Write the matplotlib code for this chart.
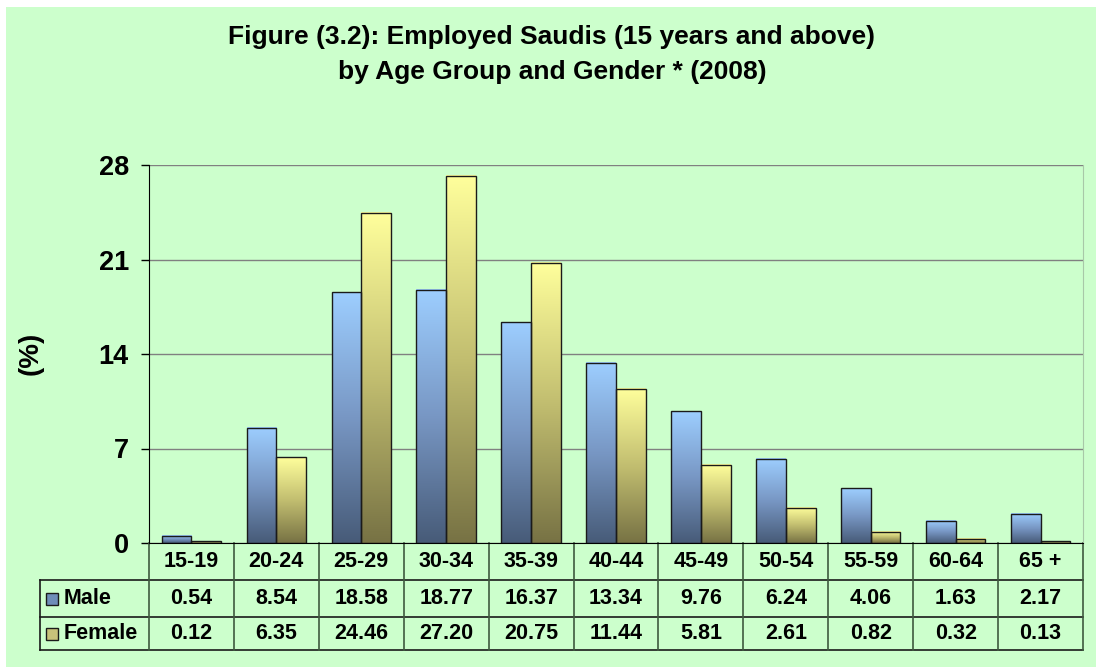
import numpy as np
import matplotlib
matplotlib.use("Agg")
import matplotlib.pyplot as plt
from matplotlib.colors import LinearSegmentedColormap
from matplotlib.patches import Rectangle

plt.rcParams['font.family'] = ['Liberation Sans', 'DejaVu Sans']

# data
age_groups = ["15-19", "20-24", "25-29", "30-34", "35-39", "40-44",
              "45-49", "50-54", "55-59", "60-64", "65 +"]
male = [0.54, 8.54, 18.58, 18.77, 16.37, 13.34, 9.76, 6.24, 4.06, 1.63, 2.17]
female = [0.12, 6.35, 24.46, 27.20, 20.75, 11.44, 5.81, 2.61, 0.82, 0.32, 0.13]
series_names = ["Male", "Female"]
y_ticks = [0, 7, 14, 21, 28]

title_lines = ["Figure (3.2): Employed Saudis (15 years and above)",
               "by Age Group and Gender * (2008)"]

W, H = 1096, 667
fig = plt.figure(figsize=(W / 100, H / 100), dpi=100, facecolor="white")

# green chart area with a thin white margin on top/left
fig.patches.append(Rectangle((6 / W, 0), 1 - 6 / W, 1 - 7 / H, transform=fig.transFigure,
                             facecolor="#CCFFCC", edgecolor="none", zorder=-10))

# plot area in pixels
px_l, px_r, px_t, px_b = 149, 1083, 165, 543
ax = fig.add_axes([px_l / W, 1 - px_b / H, (px_r - px_l) / W, (px_b - px_t) / H])
ax.set_facecolor("none")

blue_cmap = LinearSegmentedColormap.from_list("blue", ["#475B78", "#7897C4", "#9DCEFF"])
yellow_cmap = LinearSegmentedColormap.from_list("yellow", ["#777244", "#C2BE70", "#FFFF9C"])

n = len(age_groups)
x = np.arange(n)
bw = 0.35
grad = np.linspace(0, 1, 256).reshape(-1, 1)

for vals, off, cmap in [(male, -bw / 2, blue_cmap), (female, bw / 2, yellow_cmap)]:
    for xi, v in zip(x, vals):
        ax.imshow(grad, extent=[xi + off - bw / 2, xi + off + bw / 2, 0, v],
                  origin="lower", aspect="auto", cmap=cmap, zorder=2)
    ax.bar(x + off, vals, width=bw, fill=False, edgecolor="#1a1a1a", linewidth=1.0, zorder=3)

ax.set_xlim(-0.5, n - 0.5)
ax.set_ylim(0, 28)
ax.set_yticks(y_ticks)
ax.set_yticklabels([str(t) for t in y_ticks], fontsize=19.5, fontweight="bold")
ax.tick_params(axis="y", length=6, width=1, pad=8.5, direction="out")
ax.set_xticks([])
ax.yaxis.grid(True, color="#808080", linewidth=1)
ax.set_axisbelow(True)

ax.spines["top"].set_visible(False)
ax.spines["right"].set_color("#A8C8A8")
ax.spines["left"].set_color("black")
ax.spines["bottom"].set_color("black")

fig.text(31 / W, 1 - 353 / H, "(%)", rotation=90, fontsize=20, fontweight="bold",
         ha="center", va="center")

for line, base in zip(title_lines, [44, 79]):
    fig.text(552 / W, 1 - base / H, line, ha="center", va="baseline", fontsize=19,
             fontweight="bold")

# data table below the axes (pixel rows converted to axes fraction)
def ay(py):
    return (px_b - py) / (px_b - px_t)

def axx(px):
    return (px - px_l) / (px_r - px_l)

tb = ax.transAxes
rows = [543, 580, 617, 650]
tab_left = 40
line_kw = dict(transform=tb, clip_on=False, linewidth=1.2)

for py in rows[1:]:
    ax.plot([axx(tab_left), 1], [ay(py), ay(py)], color="#1a1a1a", **line_kw)
ax.plot([axx(tab_left)] * 2, [ay(rows[1]), ay(rows[3])], color="#1a1a1a", **line_kw)
for k in range(n + 1):
    xs = k / n
    ax.plot([xs, xs], [ay(rows[0]), ay(rows[3])], color="#3F5A3F", **line_kw)

fs = 15.5
for k, lab in enumerate(age_groups):
    xc = (k + 0.5) / n
    ax.text(xc, ay((rows[0] + rows[1]) / 2), lab, transform=tb, ha="center", va="center",
            fontsize=fs, fontweight="bold")
    ax.text(xc, ay((rows[1] + rows[2]) / 2), f"{male[k]:.2f}", transform=tb, ha="center",
            va="center", fontsize=fs, fontweight="bold")
    ax.text(xc, ay((rows[2] + rows[3]) / 2), f"{female[k]:.2f}", transform=tb, ha="center",
            va="center", fontsize=fs, fontweight="bold")

key_colors = ["#6E8DB8", "#C8C27A"]
for i, (name, kc) in enumerate(zip(series_names, key_colors)):
    yc = (rows[i + 1] + rows[i + 2]) / 2
    ax.add_patch(Rectangle((axx(46), ay(yc + 6)), axx(58) - axx(46), ay(yc - 6) - ay(yc + 6),
                           transform=tb, clip_on=False, facecolor=kc,
                           edgecolor="#1a1a1a", linewidth=1))
    ax.text(axx(64), ay(yc), name, transform=tb, ha="left", va="center",
            fontsize=fs, fontweight="bold")

fig.savefig("out.png", dpi=100, facecolor=fig.get_facecolor())
